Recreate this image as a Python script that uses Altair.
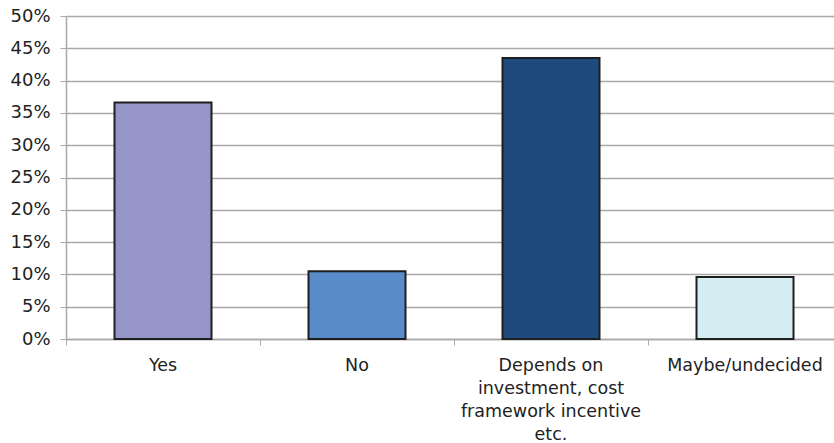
import altair as alt
import pandas as pd

# Survey answers and the share of respondents giving each one
answers = [
    "Yes",
    "No",
    "Depends on\ninvestment, cost\nframework incentive\netc.",
    "Maybe/undecided",
]
shares = [0.366, 0.105, 0.435, 0.096]
fills = ["#9595C9", "#588BC8", "#1F4A7E", "#D5EDF3"]

df = pd.DataFrame({"answer": answers, "share": shares})

FONT = "DejaVu Sans"
GRID = "#A9A9A9"
TEXT = "#222222"

bars = (
    alt.Chart(df)
    .mark_bar(
        width=alt.RelativeBandSize(0.5),
        stroke="#1E1E1E",
        strokeWidth=2,
    )
    .encode(
        x=alt.X(
            "answer:N",
            sort=answers,
            scale=alt.Scale(range=[0, 776], paddingInner=0, paddingOuter=0),
            axis=alt.Axis(
                title=None,
                labelAngle=0,
                labelExpr="split(datum.value, '\\n')",
                labelFont=FONT,
                labelFontSize=17.5,
                labelColor=TEXT,
                labelLineHeight=23,
                labelPadding=11,
                labelBaseline="top",
                labelLimit=0,
                bandPosition=0,
                tickSize=6,
                tickColor=GRID,
                domainColor=GRID,
                domainWidth=1.5,
                grid=False,
            ),
        ),
        y=alt.Y(
            "share:Q",
            scale=alt.Scale(domain=[0, 0.5], nice=False),
            axis=alt.Axis(
                title=None,
                format=".0%",
                values=[i * 0.05 for i in range(11)],
                labelFont=FONT,
                labelFontSize=18,
                labelColor=TEXT,
                labelPadding=10,
                tickSize=6,
                tickColor=GRID,
                domainColor=GRID,
                domainWidth=1.5,
                grid=True,
                gridColor=GRID,
                gridWidth=1.5,
            ),
        ),
        color=alt.Color(
            "answer:N",
            sort=answers,
            scale=alt.Scale(domain=answers, range=fills),
            legend=None,
        ),
    )
)

chart = (
    bars.properties(
        width=768,
        height=323,
        autosize=alt.AutoSizeParams(type="none"),
        padding={"left": 66, "top": 16, "right": 0, "bottom": 104},
    )
    .configure_view(stroke=None)
    .configure(background="white")
)

chart.save("out.html", embed_options={"renderer": "svg", "actions": False})
